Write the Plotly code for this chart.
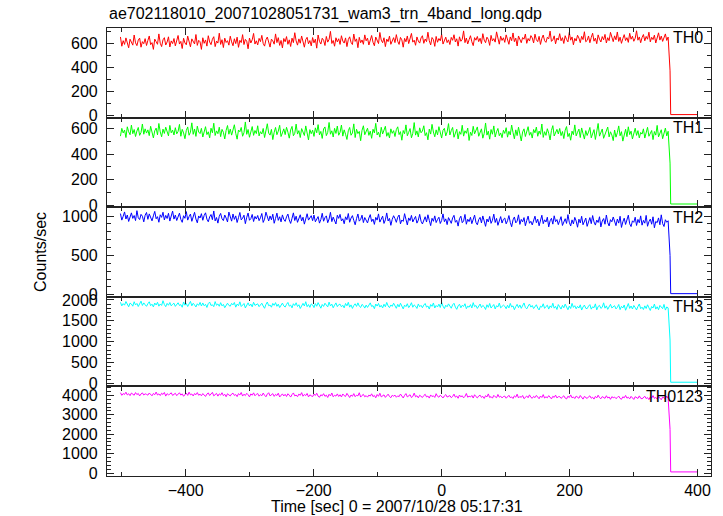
import numpy as np
import plotly.graph_objects as go
from plotly.subplots import make_subplots

# ---------------- data ----------------
t_start, t_end = -502, 354          # time span of the binned light curve (s)
tail_t = [357, 358, 400]            # drop-off bin and empty bins after the end

th0 = [651, 574, 620, 589, 643, 598, 561, 632, 610, 583, 667, 602, 579, 625, 641, 566, 612, 595, 637, 580,
       622, 659, 587, 604, 548, 633, 612, 590, 676, 599, 571, 627, 645, 584, 609, 652, 568, 618, 596, 638,
       577, 629, 663, 592, 614, 555, 640, 601, 586, 658, 620, 569, 635, 607, 593, 671, 581, 623, 611, 548,
       644, 598, 626, 575, 661, 609, 587, 632, 653, 571, 617, 600, 682, 589, 628, 563, 641, 605, 620, 583,
       657, 610, 578, 636, 596, 649, 565, 623, 604, 670, 588, 631, 615, 553, 642, 601, 627, 680, 592, 619,
       585, 639, 612, 664, 597, 575, 628, 650, 606, 567, 633, 619, 591, 676, 604, 645, 581, 622, 560, 638,
       611, 654, 590, 627, 572, 641, 604, 686, 618, 583, 635, 599, 659, 613, 566, 629, 648, 594, 621, 577,
       646, 602, 633, 558, 667, 615, 592, 640, 624, 580, 655, 608, 631, 697, 597, 622, 574, 644, 610, 636,
       589, 661, 617, 600, 643, 571, 629, 652, 606, 588, 675, 614, 635, 562, 648, 603, 626, 590, 668, 619,
       641, 584, 629, 663, 607, 578, 650, 616, 596, 688, 625, 603, 644, 571, 633, 612, 658, 590, 620, 645,
       604, 670, 615, 589, 647, 627, 566, 639, 611, 659, 596, 632, 680, 608, 624, 582, 651, 617, 600, 643,
       661, 598, 634, 612, 690, 620, 585, 646, 629, 573, 655, 607, 638, 619, 672, 592, 631, 649, 604, 627,
       588, 647, 623, 669, 609, 636, 575, 652, 615, 631, 701, 604, 642, 593, 628, 661, 611, 579, 645, 624,
       655, 612, 640, 596, 678, 625, 603, 649, 631, 581, 664, 618, 637, 608, 693, 626, 591, 657, 622, 644,
       606, 668, 633, 590, 651, 620, 684, 612, 641, 576, 659, 627, 603, 646, 632, 675, 598, 638, 617, 662,
       643, 601, 674, 628, 612, 656, 589, 639, 667, 620, 606, 648, 635, 699, 614, 627, 660, 594, 642, 625,
       678, 619, 645, 597, 661, 630, 610, 688, 624, 651, 586, 639, 617, 665, 642, 603, 656, 629, 694, 611,
       622, 659, 603, 647, 682, 616, 641, 595, 668, 633, 609, 654, 627, 672, 601, 645, 620, 689, 638, 612,
       660, 627, 692, 614, 649, 598, 637, 670, 621, 645, 606, 681, 632, 657, 615, 640, 702, 624, 651, 603,
       646, 671, 619, 655, 632, 690, 610, 648, 629, 666, 601, 643, 685, 625, 658, 614, 639, 676, 622, 650]
th1 = [541, 602, 566, 589, 530, 614, 575, 552, 627, 560, 593, 538, 581, 609, 547, 570, 636, 556, 598, 565,
       590, 545, 618, 569, 527, 583, 604, 551, 640, 574, 536, 596, 562, 611, 580, 543, 625, 567, 588, 550,
       607, 559, 578, 633, 540, 594, 566, 521, 586, 613, 548, 572, 645, 555, 597, 539, 619, 573, 561, 602,
       534, 590, 615, 553, 575, 528, 603, 567, 642, 546, 582, 560, 611, 537, 594, 571, 519, 586, 624, 556,
       596, 549, 581, 630, 563, 517, 589, 575, 609, 540, 568, 652, 555, 593, 532, 578, 616, 547, 585, 561,
       622, 543, 576, 558, 601, 530, 587, 638, 565, 549, 594, 514, 571, 609, 552, 580, 626, 538, 566, 598,
       553, 610, 572, 525, 589, 617, 544, 563, 635, 557, 584, 530, 600, 569, 546, 621, 575, 511, 592, 560,
       588, 539, 606, 567, 631, 551, 578, 523, 597, 613, 545, 570, 648, 556, 583, 534, 602, 562, 620, 548,
       571, 628, 541, 590, 556, 515, 583, 609, 548, 566, 637, 530, 595, 561, 578, 505, 586, 622, 552, 575,
       603, 547, 580, 524, 595, 566, 641, 550, 572, 533, 610, 558, 587, 618, 540, 569, 527, 598, 563, 584,
       538, 592, 614, 553, 576, 509, 585, 560, 629, 544, 571, 600, 528, 563, 647, 549, 582, 535, 606, 567,
       581, 622, 545, 568, 512, 596, 557, 633, 573, 536, 590, 551, 615, 564, 526, 587, 602, 543, 574, 639,
       550, 584, 609, 532, 568, 595, 519, 576, 555, 626, 541, 583, 563, 604, 507, 572, 546, 618, 559, 590,
       613, 540, 571, 598, 525, 562, 644, 549, 580, 517, 593, 556, 621, 534, 575, 601, 544, 566, 529, 587,
       562, 607, 533, 579, 551, 628, 569, 520, 590, 545, 611, 558, 503, 574, 598, 538, 583, 615, 548, 571,
       526, 593, 567, 612, 540, 581, 555, 636, 531, 576, 547, 599, 564, 511, 586, 623, 542, 570, 594, 558,
       601, 545, 577, 522, 588, 616, 537, 563, 509, 580, 552, 629, 543, 571, 596, 530, 605, 560, 518, 584,
       546, 573, 609, 528, 561, 592, 515, 578, 640, 541, 569, 597, 524, 556, 587, 612, 535, 575, 550, 506,
       589, 533, 568, 621, 544, 576, 502, 559, 595, 537, 614, 553, 580, 519, 566, 603, 547, 584, 527, 570,
       557, 598, 526, 572, 610, 540, 563, 585, 514, 577, 549, 625, 535, 568, 591, 521, 562, 604, 543, 579]
th2 = [1031, 948, 996, 1052, 962, 1013, 931, 989, 1040, 970, 1006, 942, 1068, 978, 955, 1021, 997, 926, 1010, 1045,
       958, 1027, 974, 939, 1002, 1059, 965, 992, 921, 1016, 983, 1048, 950, 1008, 969, 1035, 936, 999, 1063, 961,
       1012, 943, 985, 1037, 957, 920, 1004, 971, 1056, 948, 993, 1025, 933, 979, 1047, 962, 914, 1001, 975, 1030,
       946, 1008, 1041, 960, 927, 989, 1019, 954, 1064, 938, 981, 910, 997, 1033, 965, 942, 1013, 974, 925, 1050,
       990, 935, 1026, 957, 1002, 918, 979, 1045, 951, 972, 1011, 903, 984, 1038, 946, 967, 1020, 930, 995, 962,
       1007, 941, 978, 1032, 919, 960, 1049, 986, 937, 1001, 952, 1023, 908, 970, 1037, 945, 991, 926, 1014, 958,
       932, 989, 1025, 950, 906, 971, 1040, 943, 998, 920, 964, 1016, 937, 985, 897, 959, 1029, 948, 976, 1004,
       941, 1012, 927, 968, 993, 910, 956, 1035, 934, 979, 1002, 915, 962, 1047, 929, 986, 948, 899, 1010, 970,
       1021, 938, 965, 902, 990, 953, 1032, 921, 974, 1005, 944, 889, 968, 1026, 935, 957, 1011, 917, 981, 946,
       912, 975, 1018, 930, 961, 894, 983, 948, 1027, 923, 966, 999, 906, 951, 1039, 937, 970, 882, 958, 1004,
       968, 920, 985, 1013, 901, 950, 932, 1030, 959, 887, 976, 942, 1008, 925, 963, 995, 910, 947, 1021, 934,
       899, 960, 991, 924, 1016, 945, 878, 971, 933, 1002, 917, 956, 985, 905, 943, 1027, 928, 964, 891, 980,
       951, 907, 976, 1009, 921, 945, 872, 966, 998, 915, 938, 1020, 896, 959, 929, 984, 903, 950, 1012, 919,
       889, 954, 983, 912, 1001, 937, 869, 962, 925, 995, 907, 946, 1024, 918, 970, 882, 940, 993, 911, 958,
       975, 901, 940, 1006, 920, 864, 951, 988, 913, 935, 1015, 894, 957, 926, 980, 877, 943, 999, 908, 933,
       887, 946, 998, 915, 960, 876, 931, 1010, 903, 952, 924, 985, 862, 939, 971, 897, 1003, 928, 955, 891,
       943, 992, 880, 927, 966, 906, 1018, 921, 873, 951, 900, 983, 936, 858, 960, 912, 997, 889, 938, 974,
       869, 934, 980, 903, 1006, 925, 885, 949, 918, 991, 862, 937, 968, 896, 1013, 917, 874, 954, 927, 988,
       931, 878, 962, 910, 997, 855, 926, 973, 893, 948, 1011, 901, 866, 939, 920, 985, 880, 957, 914, 1002,
       884, 945, 909, 1008, 870, 928, 961, 896, 990, 851, 932, 915, 976, 889, 1015, 904, 867, 953, 921, 940]
th3 = [1943, 1858, 1911, 1875, 1962, 1889, 1836, 1924, 1901, 1850, 1957, 1880, 1916, 1843, 1897, 1971, 1868, 1929, 1884, 1847,
       1910, 1955, 1862, 1898, 1833, 1926, 1879, 1944, 1851, 1903, 1868, 1981, 1890, 1839, 1917, 1873, 1938, 1858, 1895, 1921,
       1846, 1903, 1932, 1867, 1888, 1825, 1951, 1874, 1912, 1843, 1896, 1966, 1859, 1920, 1881, 1832, 1908, 1870, 1941, 1855,
       1927, 1861, 1895, 1820, 1913, 1948, 1866, 1884, 1839, 1960, 1872, 1904, 1848, 1935, 1858, 1893, 1814, 1887, 1922, 1869,
       1850, 1918, 1881, 1939, 1827, 1899, 1862, 1955, 1843, 1876, 1914, 1808, 1888, 1931, 1857, 1901, 1835, 1944, 1869, 1892,
       1907, 1839, 1885, 1921, 1854, 1800, 1893, 1950, 1862, 1878, 1826, 1917, 1870, 1936, 1847, 1899, 1818, 1880, 1925, 1858,
       1829, 1894, 1940, 1851, 1876, 1810, 1909, 1866, 1932, 1842, 1885, 1795, 1872, 1918, 1855, 1958, 1838, 1889, 1823, 1904,
       1880, 1817, 1913, 1849, 1936, 1863, 1802, 1891, 1845, 1921, 1870, 1833, 1947, 1856, 1899, 1812, 1875, 1929, 1840, 1886,
       1899, 1836, 1872, 1810, 1915, 1859, 1943, 1827, 1881, 1797, 1866, 1908, 1845, 1930, 1852, 1820, 1893, 1863, 1805, 1877,
       1821, 1888, 1930, 1842, 1864, 1790, 1902, 1853, 1916, 1829, 1871, 1808, 1897, 1837, 1940, 1858, 1815, 1880, 1846, 1922,
       1868, 1800, 1895, 1833, 1921, 1857, 1786, 1876, 1840, 1909, 1816, 1862, 1934, 1825, 1881, 1850, 1796, 1904, 1838, 1871,
       1813, 1877, 1915, 1828, 1855, 1782, 1890, 1846, 1927, 1807, 1866, 1833, 1899, 1819, 1942, 1851, 1794, 1873, 1836, 1906,
       1862, 1801, 1883, 1920, 1829, 1775, 1858, 1897, 1812, 1871, 1844, 1909, 1790, 1851, 1826, 1888, 1808, 1935, 1840, 1867,
       1796, 1855, 1902, 1818, 1869, 1837, 1771, 1884, 1823, 1915, 1806, 1848, 1890, 1784, 1861, 1832, 1925, 1811, 1853, 1876,
       1849, 1790, 1873, 1809, 1916, 1832, 1858, 1766, 1841, 1895, 1815, 1880, 1798, 1863, 1928, 1820, 1786, 1851, 1903, 1828,
       1867, 1794, 1839, 1885, 1806, 1760, 1852, 1827, 1908, 1799, 1843, 1874, 1781, 1858, 1817, 1921, 1803, 1846, 1771, 1889,
       1836, 1781, 1870, 1812, 1899, 1827, 1765, 1853, 1795, 1918, 1821, 1862, 1788, 1847, 1806, 1883, 1758, 1832, 1877, 1800,
       1791, 1851, 1888, 1779, 1836, 1814, 1906, 1762, 1843, 1870, 1797, 1825, 1931, 1803, 1858, 1774, 1840, 1895, 1808, 1829,
       1862, 1785, 1822, 1891, 1768, 1846, 1808, 1879, 1753, 1830, 1914, 1797, 1855, 1783, 1868, 1818, 1760, 1842, 1903, 1790,
       1827, 1770, 1858, 1795, 1884, 1812, 1748, 1843, 1806, 1902, 1781, 1836, 1765, 1869, 1820, 1791, 1893, 1757, 1832, 1810]
th0123 = [4138, 4002, 4091, 4046, 4160, 4021, 4083, 3985, 4117, 4059, 4006, 4142, 4037, 4098, 3968, 4072, 4125, 4015, 4080, 4049,
          4009, 4121, 4066, 3976, 4097, 4033, 4168, 4018, 4075, 3990, 4109, 4044, 4147, 3961, 4087, 4026, 4063, 4132, 3998, 4071,
          4104, 3985, 4058, 4133, 4011, 4079, 3952, 4046, 4118, 3997, 4163, 4025, 4070, 3969, 4092, 4032, 4141, 4004, 4061, 3978,
          4090, 4017, 3943, 4066, 4124, 3992, 4048, 4153, 3975, 4039, 4101, 3960, 4077, 4012, 4135, 3984, 4056, 3929, 4083, 4021,
          3970, 4069, 4112, 3996, 4041, 3935, 4087, 4019, 4146, 3963, 4058, 3988, 4105, 4030, 3921, 4074, 4007, 4129, 3979, 4051,
          4094, 3958, 4036, 3981, 4117, 4003, 3926, 4062, 4135, 3970, 4025, 4088, 3947, 4049, 3992, 4110, 3915, 4031, 4076, 3967,
          4053, 3941, 4082, 4007, 3912, 4038, 4124, 3973, 4015, 3930, 4066, 4001, 4139, 3955, 4044, 3989, 4098, 3920, 4027, 3976,
          3937, 4061, 3995, 4107, 3954, 3902, 4029, 3978, 4086, 3948, 4012, 3891, 4054, 3969, 4121, 3925, 4003, 3960, 4074, 3941,
          4032, 3918, 4070, 3985, 3944, 4102, 3963, 3889, 4019, 3951, 4088, 3930, 4007, 3972, 4134, 3910, 3995, 4049, 3926, 3984,
          3906, 4015, 3961, 4079, 3933, 3997, 3875, 4042, 3950, 4108, 3922, 3983, 4025, 3895, 3968, 4060, 3939, 3880, 4003, 3956,
          4011, 3902, 3974, 3931, 4067, 3952, 3865, 3998, 4090, 3919, 3960, 4032, 3887, 3945, 4113, 3926, 3981, 3871, 4006, 3943,
          3890, 3992, 4054, 3917, 3963, 3858, 4021, 3936, 3978, 3893, 4085, 3950, 3904, 4009, 3929, 3866, 3971, 4040, 3912, 3957,
          3987, 3881, 3940, 4062, 3909, 3966, 3850, 4017, 3924, 3978, 3872, 3949, 4096, 3902, 3958, 3917, 3993, 3861, 4030, 3933,
          3871, 3964, 4011, 3896, 3947, 3842, 3983, 3918, 4073, 3889, 3935, 3855, 3998, 3926, 3880, 4045, 3906, 3957, 3868, 3940,
          3961, 3852, 3928, 4002, 3883, 3919, 3837, 3975, 3906, 4058, 3866, 3943, 3894, 3990, 3829, 3921, 3967, 3876, 4025, 3899,
          3852, 3948, 3881, 3997, 3912, 3826, 3966, 3890, 4036, 3861, 3925, 3874, 3983, 3905, 3818, 3951, 3896, 4009, 3867, 3930,
          3935, 3843, 3909, 3978, 3860, 3814, 3955, 3888, 4022, 3871, 3918, 3836, 3961, 3897, 3850, 3992, 3879, 3806, 3944, 3901,
          3838, 3926, 3973, 3852, 3901, 3807, 3946, 3869, 4008, 3883, 3825, 3937, 3891, 3845, 3980, 3864, 3915, 3796, 3932, 3877,
          3913, 3830, 3889, 3961, 3842, 3797, 3925, 3873, 3994, 3855, 3904, 3818, 3947, 3868, 3789, 3930, 3882, 3839, 3971, 3850,
          3821, 3906, 3952, 3835, 3884, 3781, 3919, 3861, 3987, 3843, 3893, 3808, 3935, 3857, 3775, 3910, 3872, 3828, 3963, 3840]

drop_vals = [370, 330, 500, 1040, 2250]   # partial last bin
floor_vals = [8, 10, 15, 30, 60]          # after end of data

names = ["TH0", "TH1", "TH2", "TH3", "TH0123"]
series = [th0, th1, th2, th3, th0123]

# ---------------- styles ----------------
colors = ["#ff0000", "#00ff00", "#0000ff", "#00ffff", "#ff00ff"]
yranges = [[-17, 725], [-15, 686], [-25, 1112], [-70, 2075], [-150, 4460]]
ydticks = [200, 200, 500, 500, 1000]
yminors = [100, 100, 100, 100, 200]
xrange_ = [-523, 421]
FONT = "Liberation Sans, Arial, Helvetica, sans-serif"

fig = make_subplots(rows=5, cols=1, shared_xaxes=True, vertical_spacing=0)

for i, (vals, col) in enumerate(zip(series, colors)):
    t = np.concatenate([np.linspace(t_start, t_end, len(vals)), tail_t])
    y = list(vals) + [drop_vals[i], floor_vals[i], floor_vals[i]]
    fig.add_trace(go.Scatter(x=t, y=y, mode="lines", line=dict(color=col, width=1),
                             showlegend=False, hoverinfo="skip"), row=i + 1, col=1)

axis_common = dict(showline=True, linecolor="#222222", linewidth=1.2, mirror="allticks",
                   ticks="inside", showgrid=False, zeroline=False,
                   tickfont=dict(family=FONT, size=16, color="black"))

for i in range(5):
    fig.update_xaxes(range=xrange_, tick0=0, dtick=200, ticklen=7, tickcolor="#222222",
                     minor=dict(dtick=100, ticklen=4, ticks="inside", tickcolor="#222222"),
                     **axis_common, row=i + 1, col=1)
    fig.update_yaxes(range=yranges[i], tick0=0, dtick=ydticks[i], ticklen=7, tickcolor="#222222",
                     minor=dict(dtick=yminors[i], ticklen=4, ticks="inside", tickcolor="#222222"),
                     ticklabelstandoff=5,
                     **axis_common, row=i + 1, col=1)
    ax = "" if i == 0 else str(i + 1)
    fig.add_annotation(text=names[i], xref=f"x{ax} domain", yref=f"y{ax} domain",
                       x=0.99, y=0.89, xanchor="right", yanchor="middle", showarrow=False,
                       font=dict(family=FONT, size=16, color="black"))

fig.add_annotation(text="ae702118010_20071028051731_wam3_trn_4band_long.qdp",
                   xref="paper", yref="paper", x=0, y=1.031, xanchor="left", yanchor="middle",
                   showarrow=False, font=dict(family=FONT, size=16, color="black"))
fig.add_annotation(text="Counts/sec", xref="paper", yref="paper", x=-0.111, y=0.5,
                   xanchor="center", yanchor="middle", textangle=-90, showarrow=False,
                   font=dict(family=FONT, size=16, color="black"))
fig.add_annotation(text="Time [sec] 0 = 2007/10/28 05:17:31", xref="paper", yref="paper",
                   x=0.48, y=-0.069, xanchor="center", yanchor="middle", showarrow=False,
                   font=dict(family=FONT, size=16, color="black"))

fig.update_layout(width=723, height=516, margin=dict(l=107, r=12, t=28, b=40),
                  plot_bgcolor="white", paper_bgcolor="white",
                  font=dict(family=FONT, size=16, color="black"))

# remove the page's default 8px body margin so the figure sits at the window origin
fig.write_html("out.html", config={"displayModeBar": False},
               post_script="document.body.style.margin='0';document.body.style.overflow='hidden';")
